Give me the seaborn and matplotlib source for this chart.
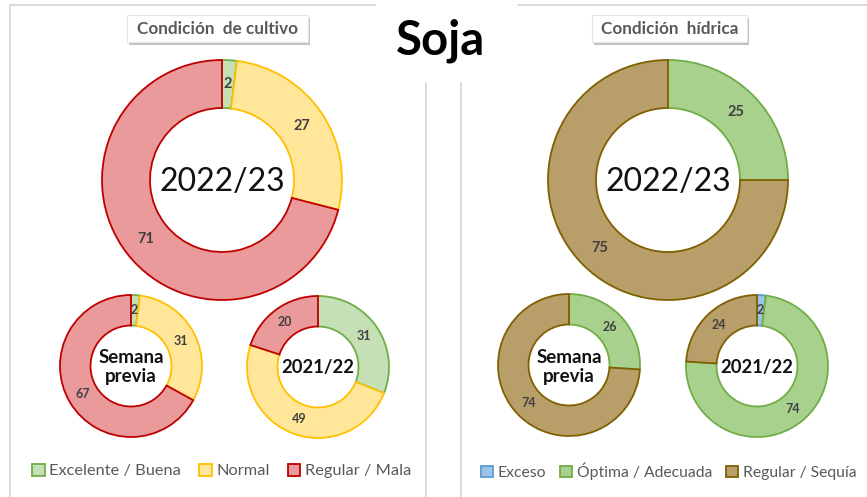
import matplotlib
matplotlib.use("Agg")
import matplotlib.pyplot as plt
from matplotlib.patches import Patch, Rectangle
import seaborn as sns

# ---- data ----
crop_categories = ["Excelente / Buena", "Normal", "Regular / Mala"]
crop_2022_23 = [2, 27, 71]
crop_prev_week = [2, 31, 67]
crop_2021_22 = [31, 49, 20]

water_categories = ["Exceso", "Óptima / Adecuada", "Regular / Sequía"]
water_2022_23 = [0, 25, 75]
water_prev_week = [0, 26, 74]
water_2021_22 = [2, 74, 24]

crop_fill = ["#c5e0b4", "#ffe699", "#ea9a9a"]
crop_edge = ["#70ad47", "#ffc000", "#c00000"]
water_fill = ["#9dc3e6", "#a9d18e", "#b89e68"]
water_edge = ["#5b9bd5", "#70ad47", "#7f6000"]

sns.set_theme(style="white")
plt.rcParams["font.family"] = ["Lato", "DejaVu Sans"]

W, H = 867, 497
fig = plt.figure(figsize=(W / 100, H / 100), dpi=100)
ax = fig.add_axes([0, 0, 1, 1])


def Y(y):
    return H - y


def donut(values, fills, edges, cx, cy, r, inner, label_size):
    vals, fc, ec = [], [], []
    for v, f, e in zip(values, fills, edges):
        if v > 0:
            vals.append(v)
            fc.append(f)
            ec.append(e)
    width = r - inner
    wedges, _, autotexts = ax.pie(
        vals, colors=fc, center=(cx, Y(cy)), radius=r, startangle=90,
        counterclock=False, autopct=lambda p: f"{p:.0f}",
        pctdistance=(r - width / 2) / r,
        wedgeprops=dict(width=width, linewidth=1.3),
        textprops=dict(fontsize=label_size, fontweight="bold", color="#404040"),
        normalize=True, frame=True)
    for w, e in zip(wedges, ec):
        w.set_edgecolor(e)


# left panel (crop condition)
donut(crop_2022_23, crop_fill, crop_edge, 222, 180, 120, 72, 10.5)
donut(crop_prev_week, crop_fill, crop_edge, 131, 366, 71, 40.5, 9)
donut(crop_2021_22, crop_fill, crop_edge, 318, 367, 71, 40.5, 9)
# right panel (water condition)
donut(water_2022_23, water_fill, water_edge, 668, 180, 120, 72, 10.5)
donut(water_prev_week, water_fill, water_edge, 569, 365, 71, 40.5, 9)
donut(water_2021_22, water_fill, water_edge, 757, 366, 71, 40.5, 9)

ax.set_xlim(0, W)
ax.set_ylim(0, H)
ax.set_aspect("equal")
ax.axis("off")

# center texts
for cx in (222, 668):
    ax.text(cx, Y(182), "2022/23", ha="center", va="center", fontsize=23,
            color="#111111")
for cx in (131, 569):
    ax.text(cx, Y(367), "Semana\nprevia", ha="center", va="center",
            fontsize=13.5, fontweight="bold", color="#111111", linespacing=1.1)
for cx in (318, 757):
    ax.text(cx, Y(367), "2021/22", ha="center", va="center",
            fontsize=13.2, fontweight="bold", color="#111111")

# main title
ax.text(441, Y(41), "Soja", ha="center", va="center", fontsize=34,
        fontweight="bold", color="black")

# panel frame lines
line_c = "#d4d4d4"
ax.plot([10, 375], [Y(5), Y(5)], color=line_c, lw=1.2)
ax.plot([10, 10], [Y(5), Y(497)], color=line_c, lw=1.2)
ax.plot([426, 426], [Y(83), Y(497)], color=line_c, lw=1.2)
ax.plot([518, 867], [Y(5), Y(5)], color=line_c, lw=1.2)
ax.plot([461, 461], [Y(83), Y(497)], color=line_c, lw=1.2)

# subtitle boxes with shadow
for (x0, x1, txt) in [(127, 308, "Condición  de cultivo"), (592, 747, "Condición  hídrica")]:
    ax.add_patch(Rectangle((x0 + 2, Y(45)), x1 - x0, 27, facecolor="#9a9a9a",
                           edgecolor="none", alpha=0.6))
    ax.add_patch(Rectangle((x0, Y(42)), x1 - x0, 27, facecolor="white",
                           edgecolor="#e6e6e6", lw=0.8))
    ax.text((x0 + x1) / 2, Y(28.5), txt, ha="center", va="center",
            fontsize=12.3, fontweight="bold", color="#595959")

# legends
crop_handles = [Patch(facecolor=f, edgecolor=e, lw=1.3) for f, e in zip(crop_fill, crop_edge)]
water_handles = [Patch(facecolor=f, edgecolor=e, lw=1.3) for f, e in zip(water_fill, water_edge)]
leg_kw = dict(ncol=3, frameon=False, handlelength=0.75,
              handleheight=0.75, handletextpad=0.3, borderpad=0,
              labelcolor="#595959")
fig.legend(crop_handles, crop_categories, loc="center", fontsize=11.8,
           columnspacing=1.1, bbox_to_anchor=(222 / W, 1 - 471 / H), **leg_kw)
fig.legend(water_handles, water_categories, loc="center right", fontsize=11.3,
           columnspacing=0.9, bbox_to_anchor=(864 / W, 1 - 471 / H), **leg_kw)

fig.savefig("out.png", dpi=100)
